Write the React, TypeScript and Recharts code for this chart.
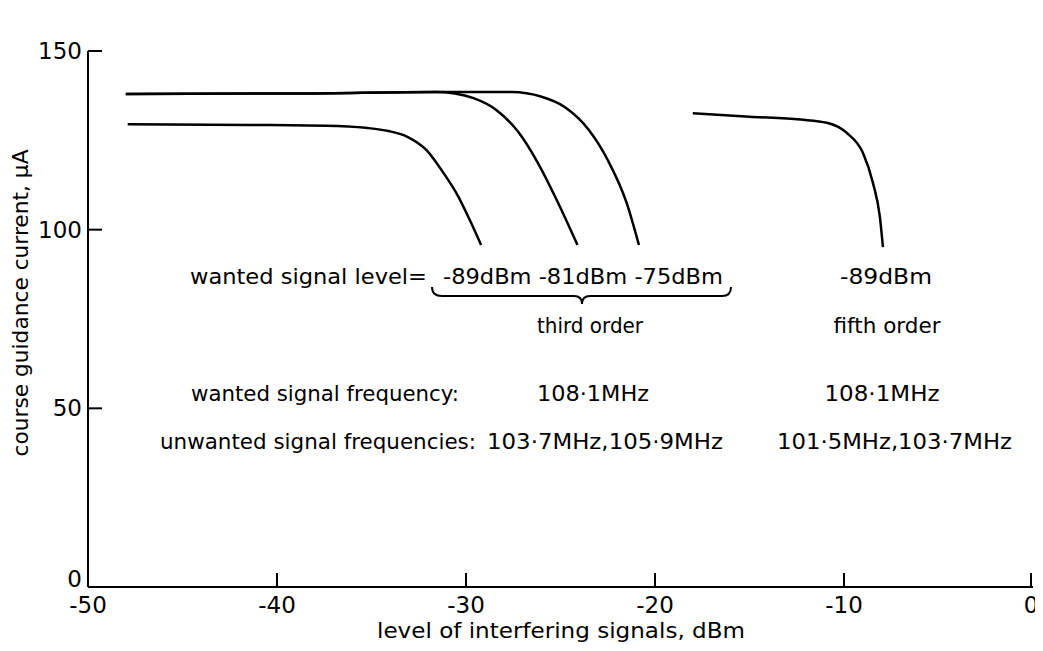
import React from 'react';
import { LineChart, Line, XAxis, YAxis } from 'recharts';

// interfering level (dBm) vs course guidance current (uA)
const third89 = [
	{ x: -47.9, y: 129.5 },
	{ x: -41.4, y: 129.3 },
	{ x: -37.4, y: 129.1 },
	{ x: -35.3, y: 128.5 },
	{ x: -34.1, y: 127.6 },
	{ x: -33.1, y: 126.0 },
	{ x: -32.1, y: 122.3 },
	{ x: -31.3, y: 116.7 },
	{ x: -30.4, y: 109.2 },
	{ x: -29.8, y: 102.7 },
	{ x: -29.2, y: 95.7 },
];

const third81 = [
	{ x: -48.0, y: 138.0 },
	{ x: -38.8, y: 138.1 },
	{ x: -31.6, y: 138.5 },
	{ x: -30.6, y: 138.1 },
	{ x: -29.6, y: 136.8 },
	{ x: -28.4, y: 133.5 },
	{ x: -27.2, y: 127.1 },
	{ x: -26.2, y: 118.7 },
	{ x: -25.2, y: 108.3 },
	{ x: -24.1, y: 95.7 },
];

const third75 = [
	{ x: -48.0, y: 138.0 },
	{ x: -38.8, y: 138.1 },
	{ x: -31.6, y: 138.5 },
	{ x: -27.6, y: 138.5 },
	{ x: -26.0, y: 137.2 },
	{ x: -24.8, y: 134.4 },
	{ x: -23.5, y: 127.9 },
	{ x: -22.5, y: 119.5 },
	{ x: -21.5, y: 107.5 },
	{ x: -20.85, y: 95.7 },
];

const fifth89 = [
	{ x: -18.0, y: 132.6 },
	{ x: -15.0, y: 131.6 },
	{ x: -12.3, y: 130.8 },
	{ x: -10.9, y: 129.9 },
	{ x: -9.84, y: 127.0 },
	{ x: -9.0, y: 121.5 },
	{ x: -8.47, y: 113.1 },
	{ x: -8.1, y: 103.5 },
	{ x: -7.94, y: 95.1 },
];

const xTicks = [-50, -40, -30, -20, -10, 0];
const yTicks = [0, 50, 100, 150];

const font = '"DejaVu Sans", sans-serif';

const XTick = (props: any) => {
	const { x, y, payload } = props;
	const axisY = y - 10;
	return (
		<g>
			<line x1={x} x2={x} y1={axisY} y2={axisY - 14} stroke="#000" strokeWidth={2} />
			<text x={x} y={y} dy="0.71em" textAnchor="middle" fontSize={23} fontFamily={font} fill="#000">
				{payload.value}
			</text>
		</g>
	);
};

const YTick = (props: any) => {
	const { x, y, payload } = props;
	const axisX = x + 6;
	// the zero label sits a little above the x axis, clear of "-50"
	const lift = payload.value === 0 ? -8 : 0;
	return (
		<g>
			<line x1={axisX} x2={axisX + 14} y1={y} y2={y} stroke="#000" strokeWidth={2} />
			<text x={x} y={y + lift} dy="0.355em" textAnchor="end" fontSize={23} fontFamily={font} fill="#000">
				{payload.value}
			</text>
		</g>
	);
};

const Note = ({ x, y, w, anchor = 'start', children }: any) => (
	<text
		x={x}
		y={y}
		textAnchor={anchor}
		fontSize={22}
		fontFamily={font}
		fill="#000"
		textLength={w}
		lengthAdjust="spacingAndGlyphs"
	>
		{children}
	</text>
);

export default function App() {
	return (
		<div style={{ position: 'relative', width: 1027, height: 643, background: '#fff' }}>
			<style>{'.recharts-surface { overflow: visible; } .recharts-wrapper { overflow: visible; }'}</style>
			<LineChart width={1027} height={643} margin={{ top: 43, right: 2, bottom: 24, left: 20 }}>
				<XAxis
					type="number"
					dataKey="x"
					domain={[-50, 0]}
					ticks={xTicks}
					height={40}
					axisLine={{ stroke: '#000', strokeWidth: 2 }}
					tickLine={false}
					tickSize={0}
					tickMargin={10}
					tick={<XTick />}
					allowDataOverflow
				/>
				<YAxis
					type="number"
					dataKey="y"
					domain={[0, 150]}
					ticks={yTicks}
					width={60}
					axisLine={{ stroke: '#000', strokeWidth: 2 }}
					tickLine={false}
					tickSize={0}
					tickMargin={6}
					tick={<YTick />}
					allowDataOverflow
				/>
				<Line data={third89} dataKey="y" type="monotone" stroke="#000" strokeWidth={2.5} dot={false} isAnimationActive={false} />
				<Line data={third81} dataKey="y" type="monotone" stroke="#000" strokeWidth={2.5} dot={false} isAnimationActive={false} />
				<Line data={third75} dataKey="y" type="monotone" stroke="#000" strokeWidth={2.5} dot={false} isAnimationActive={false} />
				<Line data={fifth89} dataKey="y" type="monotone" stroke="#000" strokeWidth={2.5} dot={false} isAnimationActive={false} />
			</LineChart>
			<svg
				width={1027}
				height={643}
				style={{ position: 'absolute', left: 0, top: 0, pointerEvents: 'none', overflow: 'visible' }}
			>
				<Note x={182} y={276} w={237}>wanted signal level=</Note>
				<Note x={435} y={276} w={280}>-89dBm -81dBm -75dBm</Note>
				<path
					d="M424 279 Q424 288 434 288 L566 288 Q574 288 574 296 Q574 288 582 288 L714 288 Q723 288 723 279"
					fill="none"
					stroke="#000"
					strokeWidth={2}
				/>
				<Note x={582} y={325} w={106} anchor="middle">third order</Note>
				<Note x={878} y={276} w={92} anchor="middle">-89dBm</Note>
				<Note x={879} y={325} w={107} anchor="middle">fifth order</Note>

				<Note x={183} y={393} w={268}>wanted signal frequency:</Note>
				<Note x={585} y={393} w={112} anchor="middle">108·1MHz</Note>
				<Note x={874} y={393} w={115} anchor="middle">108·1MHz</Note>

				<Note x={152} y={441} w={316}>unwanted signal frequencies:</Note>
				<Note x={479} y={441} w={236}>103·7MHz,105·9MHz</Note>
				<Note x={769} y={441} w={235}>101·5MHz,103·7MHz</Note>

				<text x={553} y={630} textAnchor="middle" fontSize={21} fontFamily={font} fill="#000" textLength={368} lengthAdjust="spacingAndGlyphs">
					level of interfering signals, dBm
				</text>
				<text
					x={0}
					y={0}
					transform="translate(20 295) rotate(-90)"
					textAnchor="middle"
					fontSize={22}
					fontFamily={font}
					fill="#000"
					textLength={307}
					lengthAdjust="spacingAndGlyphs"
				>
					course guidance current, μA
				</text>
			</svg>
		</div>
	);
}
